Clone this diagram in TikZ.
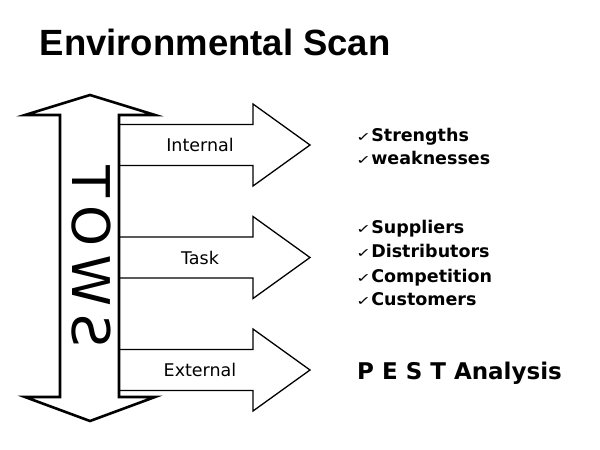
\documentclass[tikz,border=0pt]{standalone}
\usepackage{fontspec}
\usepackage{graphicx}
\setmainfont{DejaVu Sans}
\newfontfamily\titlefont{Liberation Sans}
\newfontfamily\dvs{DejaVu Sans}
\newcommand{\ckmark}{{\fontsize{18}{18}\selectfont\mdseries\dvs\scalebox{1.0}[0.7]{✓}}}
\begin{document}
\begin{tikzpicture}[x=1pt,y=-1pt,
  bigarrow/.style={draw=black, line width=2.6pt, line join=miter, fill=white},
  smallarrow/.style={draw=black, line width=1.3pt, line join=miter},
  lbl/.style={font=\fontsize{17.5}{20}\selectfont, inner sep=0pt},
  itemtext/.style={font=\fontsize{17.5}{20}\selectfont\bfseries, anchor=base west, inner sep=0pt},
]
\useasboundingbox[fill=white] (0,0) rectangle (600,450);
\node[anchor=base west, inner sep=0pt, font=\titlefont\bfseries\fontsize{36.5}{40}\selectfont] (title) at (39.5,55) {Environmental Scan};

\foreach \c/\n/\t in {145/int/Internal, 257.5/task/Task, 370/ext/External} {
  \draw[smallarrow] (119,\c-20.5) -- (253,\c-20.5) -- (253,\c-41) -- (310,\c) -- (253,\c+41) -- (253,\c+20.5) -- (119,\c+20.5);
  \node[lbl] (\n) at (200,\c) {\t};
}

\draw[bigarrow] (90,95) -- (155,115) -- (119,115) -- (119,397) -- (155,397) -- (90,421) -- (25,397) -- (60,397) -- (60,115) -- (25,115) -- cycle;

\node[inner sep=0pt, rotate=90, yscale=-1, font=\fontsize{52}{52}\selectfont] (swot) at (91,256.5)
  {S\hspace{8pt}W\hspace{8pt}O\hspace{8pt}T};

\node[itemtext] (s1) at (356,141) {\ckmark Strengths};
\node[itemtext] (s2) at (356,164) {\ckmark weaknesses};
\node[itemtext] (t1) at (356,233) {\ckmark Suppliers};
\node[itemtext] (t2) at (356,257) {\ckmark Distributors};
\node[itemtext] (t3) at (356,282) {\ckmark Competition};
\node[itemtext] (t4) at (356,305) {\ckmark Customers};
\node[itemtext, font=\fontsize{23}{26}\selectfont\bfseries] (pest) at (357,379) {P E S T Analysis};
\end{tikzpicture}
\end{document}
